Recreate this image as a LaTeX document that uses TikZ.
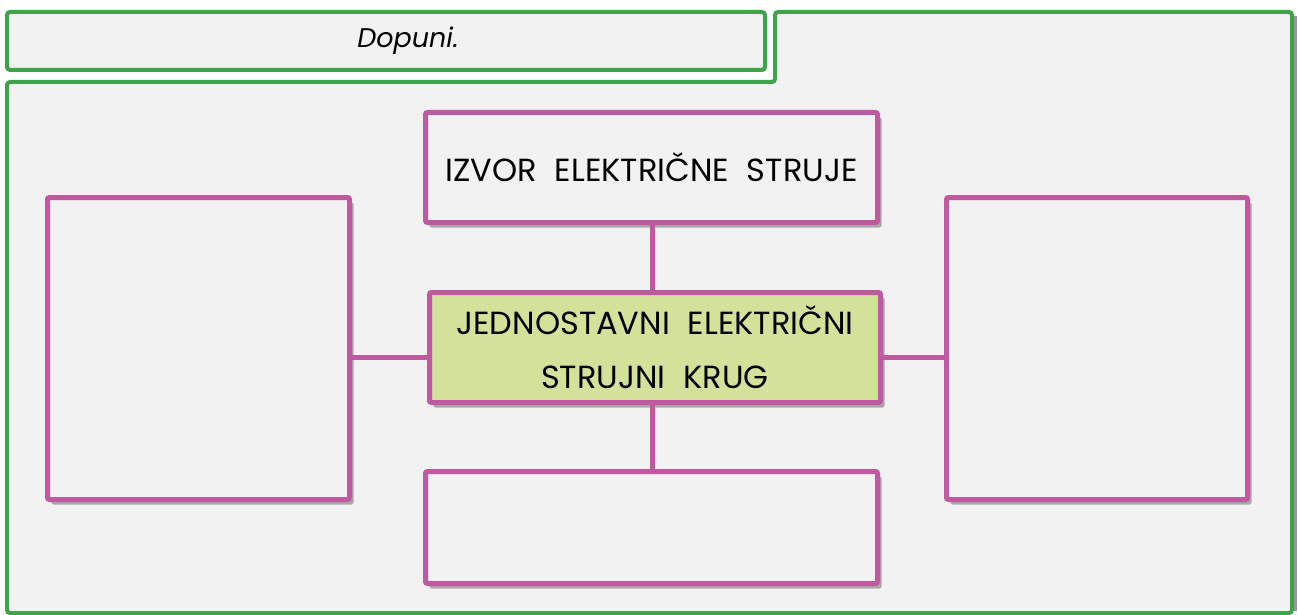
\documentclass[tikz,border=0pt]{standalone}
\usepackage{fontspec}
\setmainfont{Poppins}
\usetikzlibrary{shadows}
\definecolor{gcol}{RGB}{63,163,74}
\definecolor{pcol}{RGB}{192,90,160}
\definecolor{bg}{RGB}{242,242,242}
\definecolor{cfill}{RGB}{211,226,155}
\newcommand\wsp{\hspace{18pt}}
\begin{document}
\begin{tikzpicture}[x=1pt,y=-1pt,
  gline/.style={draw=gcol,line width=4pt,fill=bg,rounded corners=3pt},
  pbox/.style={draw=pcol,line width=5pt,fill=bg,rounded corners=2pt,inner sep=0pt,align=center,
     font=\fontsize{32}{54}\selectfont,
     drop shadow={shadow xshift=4pt,shadow yshift=-5pt,fill=black,opacity=0.3}},
  conn/.style={draw=pcol,line width=5pt}]
\useasboundingbox (0,0) rectangle (1298,615);
\fill[white] (0,0) rectangle (1298,615);
% main frame
\fill[black,opacity=0.4] (1292,16) rectangle (1297,611);
\draw[gline] (7,82) -- (775,82) -- (775,12) -- (1292,12) -- (1292,613) -- (7,613) -- cycle;
\node[draw=gcol,line width=4pt,fill=bg,rounded corners=3pt,minimum width=758pt,minimum height=58pt,inner sep=0pt] (hdr) at (386,41) {};
\node[font=\fontsize{27}{30}\selectfont\itshape,inner sep=0pt] (hdrtxt) at (408,41) {Dopuni.};
% boxes
\node[pbox,minimum width=452pt,minimum height=110pt] (top) at (651.5,167.5) {IZVOR\wsp ELEKTRIČNE\wsp STRUJE};
\node[pbox,fill=cfill,minimum width=451pt,minimum height=110pt] (mid) at (655,347.5) {JEDNOSTAVNI\wsp ELEKTRIČNI\\STRUJNI\wsp KRUG};
\node[pbox,minimum width=452pt,minimum height=112pt] (bot) at (651.5,527.5) {};
\node[pbox,minimum width=302pt,minimum height=302pt] (lft) at (198.5,348.5) {};
\node[pbox,minimum width=301pt,minimum height=302pt] (rgt) at (1097,348.5) {};
\coordinate (hy) at (0,357);
\coordinate (vx) at (652,0);
% connectors
\draw[conn] (vx |- top.south) -- (vx |- mid.north);
\draw[conn] (vx |- mid.south) -- (vx |- bot.north);
\draw[conn] (lft.east |- hy) -- (mid.west |- hy);
\draw[conn] (mid.east |- hy) -- (rgt.west |- hy);
\end{tikzpicture}
\end{document}
